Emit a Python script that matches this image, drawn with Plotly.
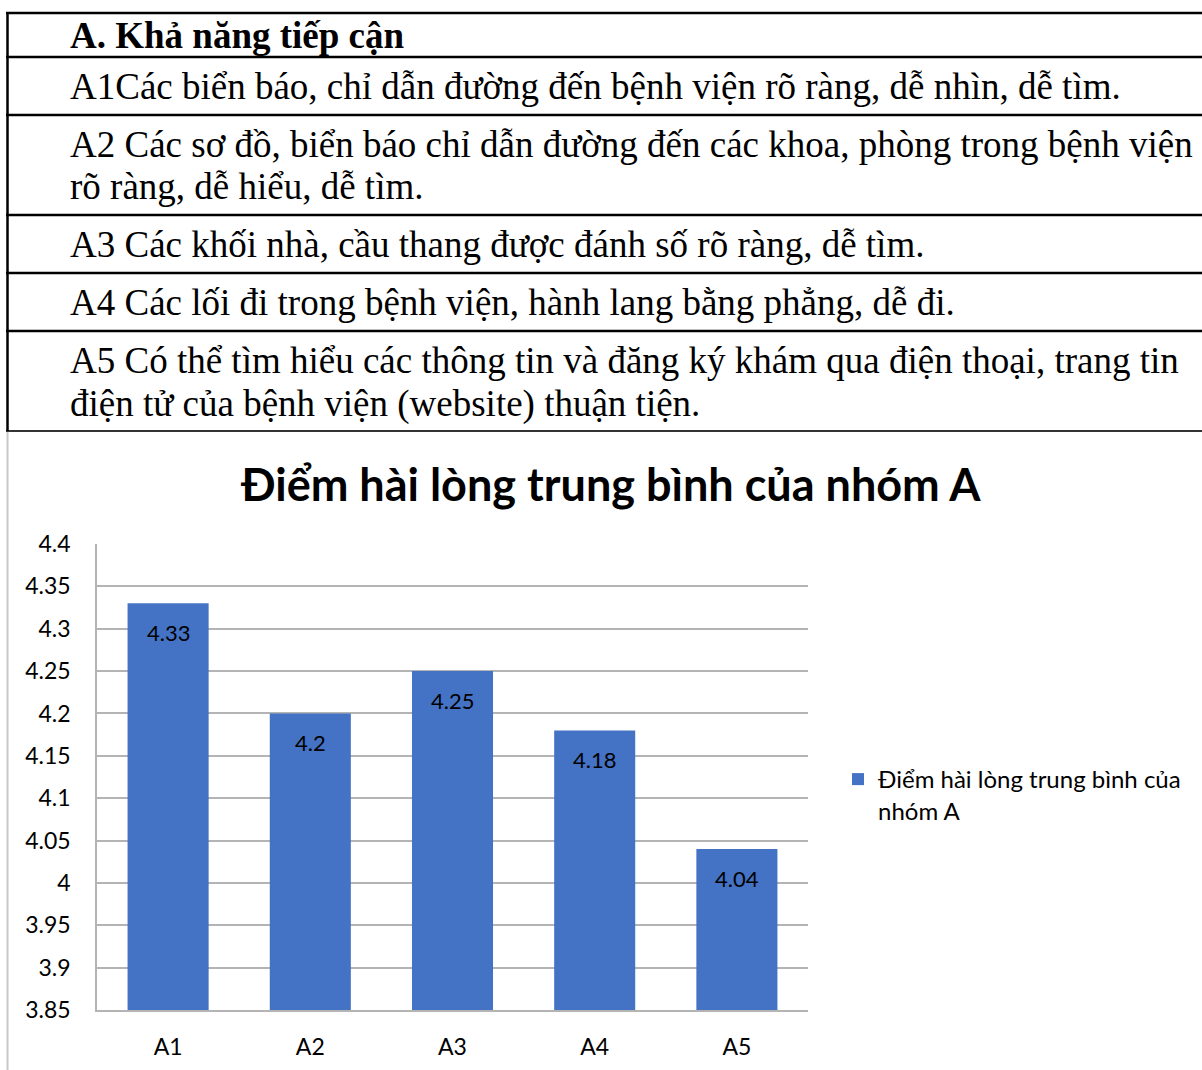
import plotly.graph_objects as go

W, H = 1202, 1070

# Table content: heading and criteria lines
table_heading = "A. Khả năng tiếp cận"
table_rows = [
    ["A1Các biển báo, chỉ dẫn đường đến bệnh viện rõ ràng, dễ nhìn, dễ tìm."],
    ["A2 Các sơ đồ, biển báo chỉ dẫn đường đến các khoa, phòng trong bệnh viện",
     "rõ ràng, dễ hiểu, dễ tìm."],
    ["A3 Các khối nhà, cầu thang được đánh số rõ ràng, dễ tìm."],
    ["A4 Các lối đi trong bệnh viện, hành lang bằng phẳng, dễ đi."],
    ["A5 Có thể tìm hiểu các thông tin và đăng ký khám qua điện thoại, trang tin",
     "điện tử của bệnh viện (website) thuận tiện."],
]

# Chart data
categories = ["A1", "A2", "A3", "A4", "A5"]
scores = [4.33, 4.2, 4.25, 4.18, 4.04]
series_name = "Điểm hài lòng trung bình của<br>nhóm A"
chart_title = "Điểm hài lòng trung bình của nhóm A"
tick_vals = [3.85, 3.9, 3.95, 4.0, 4.05, 4.1, 4.15, 4.2, 4.25, 4.3, 4.35, 4.4]
tick_text = ["3.85", "3.9", "3.95", "4", "4.05", "4.1", "4.15", "4.2", "4.25", "4.3", "4.35", "4.4"]


def fx(px):
    return px / W


def fy(py):
    return 1 - py / H


BAR_COLOR = "#4472C4"
GRID = "#b4b4b4"
SERIF = "Liberation Serif, Times New Roman, serif"
SANS = "Lato, Carlito, Calibri, sans-serif"

fig = go.Figure()
fig.add_trace(go.Bar(
    x=categories, y=scores, name=series_name,
    marker=dict(color=BAR_COLOR, line=dict(width=0)),
    width=0.57, showlegend=True,
))

# Value labels just inside the top of each bar
for c, v in zip(categories, scores):
    fig.add_annotation(x=c, y=v, xref="x", yref="y", text=f"{v:g}", showarrow=False,
                       yanchor="top", yshift=-14, font=dict(family=SANS, size=22, color="#000000"))

shapes = []
# Table horizontal rules
row_lines = [13, 57, 115, 215, 273, 331]
for y in row_lines:
    shapes.append(dict(type="line", xref="paper", yref="paper", x0=fx(6), x1=fx(1210),
                       y0=fy(y), y1=fy(y), line=dict(color="#000000", width=2.5)))
shapes.append(dict(type="line", xref="paper", yref="paper", x0=fx(6), x1=fx(1210),
                   y0=fy(431), y1=fy(431), line=dict(color="#333333", width=2)))
# Table left border
shapes.append(dict(type="line", xref="paper", yref="paper", x0=fx(7.5), x1=fx(7.5),
                   y0=fy(12), y1=fy(431), line=dict(color="#000000", width=2.5)))
# Chart frame left edge
shapes.append(dict(type="line", xref="paper", yref="paper", x0=fx(7.5), x1=fx(7.5),
                   y0=fy(432), y1=fy(1070), line=dict(color="#c8c8c8", width=2)))
fig.update_layout(shapes=shapes)

# Table text
fig.add_annotation(x=fx(68), y=fy(36), xref="paper", yref="paper", xanchor="left", yanchor="middle",
                   text="<b>" + table_heading + "</b>", showarrow=False,
                   font=dict(family=SERIF, size=37, color="#000000"))
row_line_centers = [[87], [145, 187], [245], [302], [360, 404]]
for lines, centers in zip(table_rows, row_line_centers):
    for t, cy in zip(lines, centers):
        fig.add_annotation(x=fx(68), y=fy(cy), xref="paper", yref="paper", xanchor="left",
                           yanchor="middle", text=t, showarrow=False,
                           font=dict(family=SERIF, size=37, color="#000000"))

# Chart title
fig.add_annotation(x=fx(610), y=fy(484), xref="paper", yref="paper", xanchor="center", yanchor="middle",
                   text="<b>" + chart_title + "</b>", showarrow=False,
                   font=dict(family=SANS, size=45, color="#000000"))

fig.update_layout(
    width=W, height=H,
    margin=dict(l=0, r=0, t=0, b=0, pad=0, autoexpand=False),
    paper_bgcolor="#ffffff", plot_bgcolor="#ffffff",
    xaxis=dict(domain=[fx(97), fx(808)], showgrid=False, showline=True, linecolor=GRID, linewidth=1.5,
               ticks="", tickfont=dict(family=SANS, size=23, color="#000000"),
               ticklabelstandoff=16, zeroline=False, automargin=False),
    yaxis=dict(domain=[fy(1010), fy(544)], range=[3.85, 4.4], tickvals=tick_vals, ticktext=tick_text,
               showgrid=True, gridcolor=GRID, gridwidth=1.5, showline=True, linecolor=GRID, linewidth=1.5,
               ticks="", tickfont=dict(family=SANS, size=23, color="#000000"),
               ticklabelstandoff=20, zeroline=False, automargin=False),
    legend=dict(x=fx(838), y=fy(757), xanchor="left", yanchor="top", valign="top",
                font=dict(family=SANS, size=24, color="#000000"), bgcolor="rgba(0,0,0,0)",
                itemwidth=30, tracegroupgap=0),
    showlegend=True,
)

fig.write_html("out.html")
